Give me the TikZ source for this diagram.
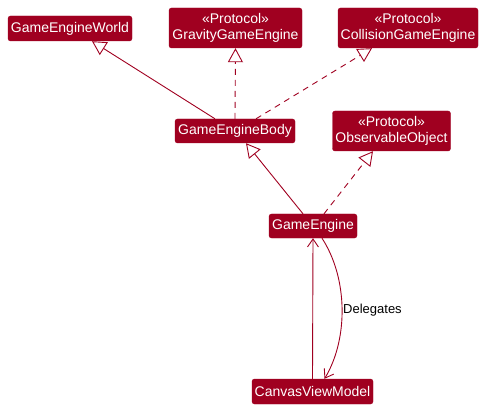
\documentclass[tikz,border=0pt]{standalone}
\usepackage{fontspec}
\setmainfont{Liberation Sans}
\usetikzlibrary{arrows.meta}
\definecolor{umlred}{RGB}{160,0,32}
\begin{document}
\begin{tikzpicture}[x=1pt,y=-1pt,
  cls/.style={draw=umlred,fill=umlred,rounded corners=2.5pt,text=white,inner sep=0pt,align=center,font=\fontsize{14}{16}\selectfont},
  link/.style={draw=umlred,line width=0.9pt},
  dashlink/.style={link,dash pattern=on 6pt off 5pt},
  gen/.style={-{Triangle[open,length=14pt,width=15pt,fill=white]}},
  nav/.style={-{Straight Barb[length=8pt,width=11pt]}}]
\useasboundingbox (0,0) rectangle (485,409);
\node[cls,minimum width=124pt,minimum height=25pt] (world) at (70,28.5) {GameEngineWorld};
\node[cls,minimum width=133pt,minimum height=40pt] (gravity) at (235.5,28) {«Protocol»\\GravityGameEngine};
\node[cls,minimum width=140pt,minimum height=40pt] (collision) at (408,28) {«Protocol»\\CollisionGameEngine};
\node[cls,minimum width=120pt,minimum height=24pt] (body) at (235,131) {GameEngineBody};
\node[cls,minimum width=118pt,minimum height=40pt] (observable) at (391.5,131) {«Protocol»\\ObservableObject};
\node[cls,minimum width=88pt,minimum height=24pt] (engine) at (313,226) {GameEngine};
\node[cls,minimum width=121pt,minimum height=25pt] (canvas) at (312.5,391.5) {CanvasViewModel};
\draw[link,gen] ([xshift=-20pt]body.north) -- ([xshift=22pt]world.south);
\draw[dashlink,gen] (body.north) -- (gravity.south);
\draw[dashlink,gen] ([xshift=21pt]body.north) -- ([xshift=-36pt]collision.south);
\draw[link,gen] ([xshift=-10pt]engine.north) -- ([xshift=11pt]body.south);
\draw[dashlink,gen] ([xshift=11pt]engine.north) -- ([xshift=-18.5pt]observable.south);
\draw[link,nav] (canvas.north) -- (engine.south);
\draw[link,nav] ([xshift=9pt]engine.south) .. controls +(26,40) and +(24,-40) .. ([xshift=12pt]canvas.north);
\node[anchor=west,inner sep=0pt,font=\fontsize{13}{15}\selectfont] (lbl) at (343,310) {Delegates};
\end{tikzpicture}
\end{document}
